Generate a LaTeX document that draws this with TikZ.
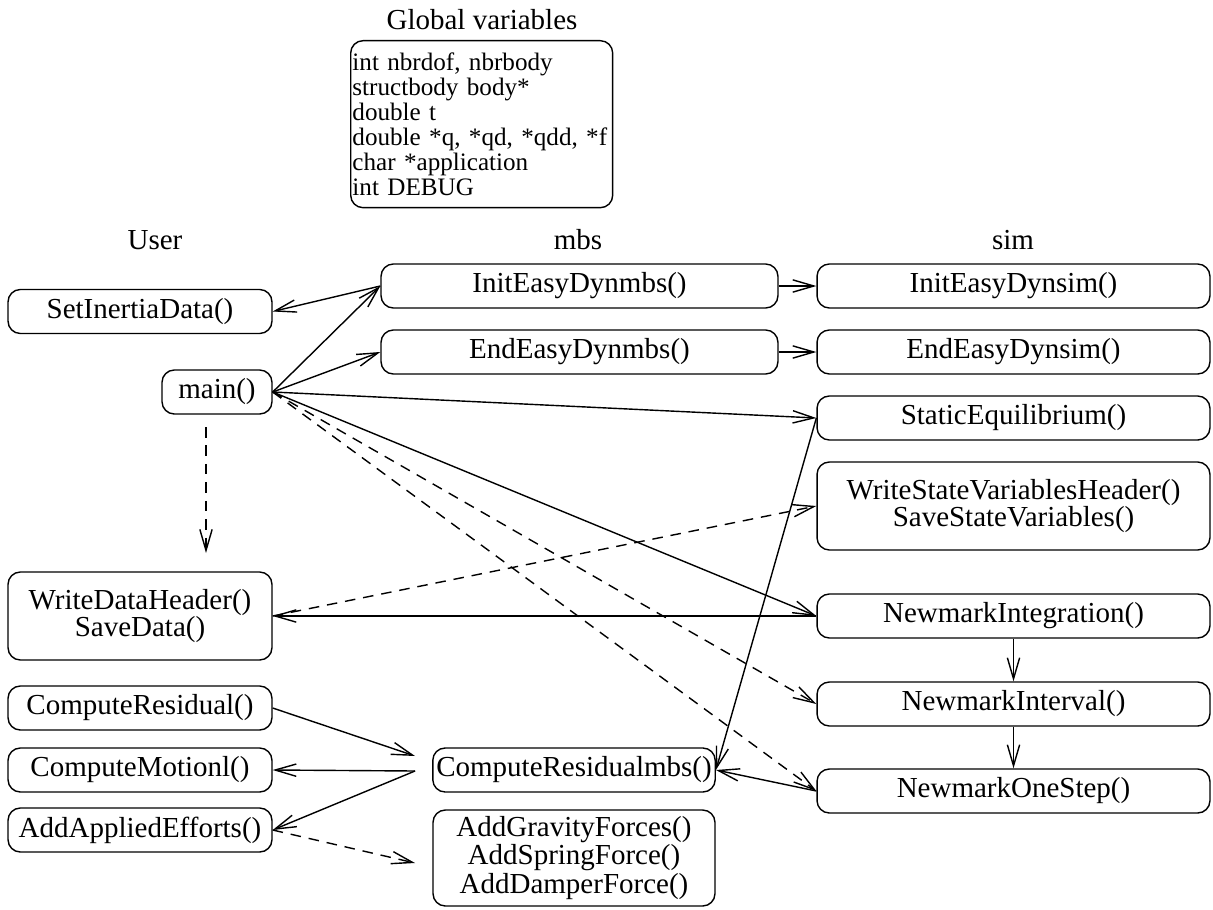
\documentclass[tikz,border=0pt]{standalone}
\usepackage{fontspec}
\setmainfont{Liberation Serif}
\usetikzlibrary{arrows.meta}

\tikzset{
  fn/.style={draw, rounded corners=7pt, minimum height=0.88cm, align=center, inner sep=2pt},
  usr/.style={fn, minimum width=5.28cm},
  mbs/.style={fn, minimum width=7.94cm},
  sim/.style={fn, minimum width=7.86cm},
  dep/.style={->, dash pattern=on 6pt off 4.5pt},
}

\begin{document}
\begin{tikzpicture}[x=0.02cm, y=-0.02cm, line width=0.8pt,
    >={Straight Barb[length=12pt,width=7pt]},
    font=\fontsize{16.5}{15.5}\selectfont]
    \useasboundingbox (0,0) rectangle (1213,909);
    % global variables
    \node (gtitle) at (482,20) {Global variables};
    \node[draw, rounded corners=7pt, anchor=north west, text width=5.17cm, minimum height=3.34cm, align=left,
          inner xsep=1pt, inner ysep=1pt, font={\fontsize{14.3}{14.2}\selectfont\lineskiplimit=-20pt}]
          (glob) at (350,40) {int nbrdof, nbrbody\\structbody body*\\double t\\double *q, *qd, *qdd, *f\\char *application\\int DEBUG};
    \foreach \x/\t in {155/User,578/mbs,1013/sim} \node (col\t) at (\x,240) {\t};
    % User
    \node[usr] (inertia) at (140,311.5) {SetInertiaData()};
    \node[fn, minimum width=2.2cm] (main) at (217,392) {main()};
    \node[usr, minimum height=1.76cm] (datahdr) at (140,616) {WriteDataHeader()\\SaveData()};
    \node[usr] (resid) at (140,708) {ComputeResidual()};
    \node[usr] (motion) at (140,770) {ComputeMotionl()};
    \node[usr] (efforts) at (140,830) {AddAppliedEfforts()};
    % mbs
    \node[mbs] (initmbs) at (579.5,286) {InitEasyDynmbs()};
    \node[mbs] (endmbs) at (579.5,352) {EndEasyDynmbs()};
    \node[fn, minimum width=5.64cm] (residmbs) at (574,770) {ComputeResidualmbs()};
    \node[fn, minimum width=5.64cm, minimum height=1.92cm, font=\fontsize{16.5}{16.4}\selectfont]
          (forces) at (574,858) {AddGravityForces()\\AddSpringForce()\\AddDamperForce()};
    % sim
    \node[sim] (initsim) at (1013.5,286) {InitEasyDynsim()};
    \node[sim] (endsim) at (1013.5,352) {EndEasyDynsim()};
    \node[sim] (static) at (1013.5,418) {StaticEquilibrium()};
    \node[sim, minimum height=1.76cm] (statehdr) at (1013.5,506) {WriteStateVariablesHeader()\\SaveStateVariables()};
    \node[sim] (integ) at (1013.5,616) {NewmarkIntegration()};
    \node[sim] (interv) at (1013.5,704) {NewmarkInterval()};
    \node[sim] (onestep) at (1013.5,791) {NewmarkOneStep()};
    % free ends
    \coordinate (residin) at (415,756);
    \coordinate (residout) at (415,771);
    \coordinate (forcesin) at (415,863);
    \coordinate (mainoff) at (206,427);
    \coordinate (mainend) at (206,553);
    % calls
    \draw[->] (main.east) -- (initmbs.west);
    \draw[->] (main.east) -- (endmbs.west);
    \draw[->] (main.east) -- (static.west);
    \draw[->] (main.east) -- (integ.west);
    \draw[dep] (main.east) -- (interv.west);
    \draw[dep] (main.east) -- (onestep.west);
    \draw[dep] (mainoff) -- (mainend);
    \draw[->] (initmbs.west) -- (inertia.east);
    \draw[->] (initmbs) -- (initsim);
    \draw[->] (endmbs) -- (endsim);
    \draw[->] (integ) -- (interv);
    \draw[->] (interv) -- (onestep);
    \draw[->] (integ.west) -- (datahdr.east);
    \draw[dep] (datahdr.east) -- (statehdr.west);
    \draw[->] (static.west) -- (residmbs.east);
    \draw[->] (onestep.west) -- (residmbs.east);
    \draw[->] (resid.east) -- (residin);
    \draw[->] (residout) -- (motion.east);
    \draw[->] (residout) -- (efforts.east);
    \draw[dep] (efforts.east) -- (forcesin);
\end{tikzpicture}
\end{document}
